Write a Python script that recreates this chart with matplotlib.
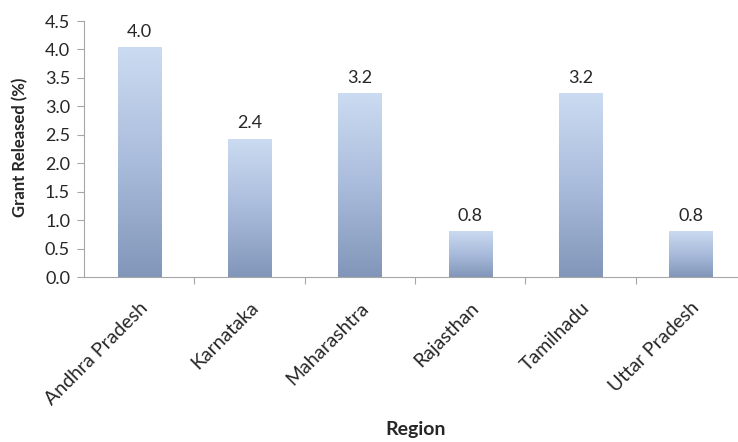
import numpy as np
import matplotlib
matplotlib.use("Agg")
import matplotlib.pyplot as plt
from matplotlib.colors import LinearSegmentedColormap

plt.rcParams['font.family'] = ['Lato', 'DejaVu Sans']

regions = ['Andhra Pradesh', 'Karnataka', 'Maharashtra', 'Rajasthan', 'Tamilnadu', 'Uttar Pradesh']
grant = [4.04, 2.43, 3.23, 0.81, 3.23, 0.81]
y_ticks = [0.0, 0.5, 1.0, 1.5, 2.0, 2.5, 3.0, 3.5, 4.0, 4.5]

W, H = 738, 442
fig = plt.figure(figsize=(W / 100, H / 100), dpi=100)
left, right, bottom, top = 84, 746, 277, 21
ax = fig.add_axes([left / W, 1 - bottom / H, (right - left) / W, (bottom - top) / H])

cmap = LinearSegmentedColormap.from_list('grad', ['#8196b9', '#aabcdc', '#cbdbf1'])
grad = np.linspace(0, 1, 256).reshape(-1, 1)

x = np.arange(len(regions))
bars = ax.bar(x, grant, width=0.39, color='none', edgecolor='none')
for b, v in zip(bars, grant):
    x0 = b.get_x()
    im = ax.imshow(grad, cmap=cmap, origin='lower', aspect='auto',
                   extent=[x0, x0 + b.get_width(), 0, v], zorder=2)
    im.set_clip_path(b)
    ax.text(b.get_x() + b.get_width() / 2, v + 0.13, f'{v:.1f}',
            ha='center', va='bottom', fontsize=13, color='#262626')

ax.set_xlim(-0.5, len(regions) - 0.5)
ax.set_ylim(0, 4.5)
ax.set_yticks(y_ticks)
ax.set_yticklabels([f'{t:.1f}' for t in y_ticks], fontsize=13, color='#262626')

ax.set_xticks(x)
ax.set_xticklabels(regions, rotation=45, ha='right', rotation_mode='anchor',
                   fontsize=14, color='#262626')
ax.tick_params(axis='x', length=0, pad=16)
ax.set_xticks(np.arange(len(regions) - 1) + 0.5, minor=True)
ax.tick_params(axis='x', which='minor', length=5, color='#a6a6a6', width=0.8)
ax.tick_params(axis='y', length=5, color='#a6a6a6', width=0.8, pad=5)

for s in ['top', 'right']:
    ax.spines[s].set_visible(False)
for s in ['left', 'bottom']:
    ax.spines[s].set_color('#a6a6a6')
    ax.spines[s].set_linewidth(0.8)

# axis titles placed where the original puts them
fig.text(20 / W, 1 - 147 / H, 'Grant Released (%)', rotation=90, ha='center', va='center',
         fontsize=12, fontweight='bold', color='#262626')
fig.text(416 / W, 1 - 430 / H, 'Region', ha='center', va='center',
         fontsize=14, fontweight='bold', color='#262626')

fig.savefig('out.png', dpi=100)
